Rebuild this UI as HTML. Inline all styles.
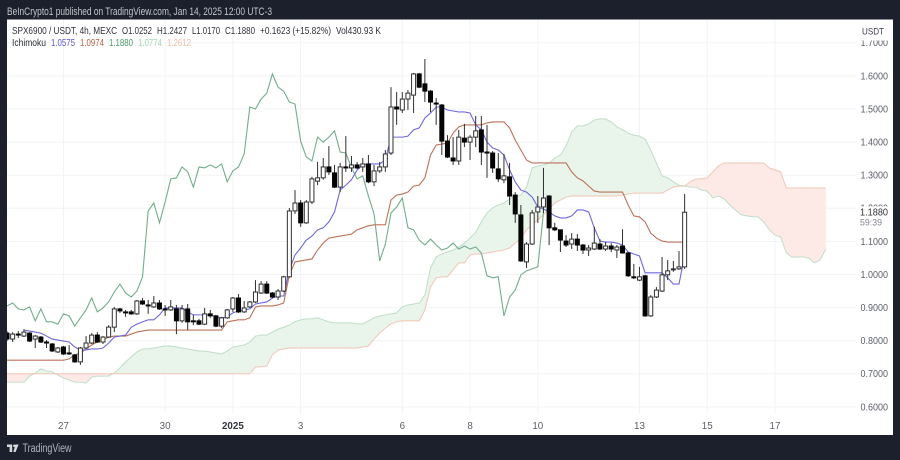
<!DOCTYPE html>
<html lang="en">
<head>
<meta charset="utf-8">
<title>SPX6900 / USDT Ichimoku chart</title>
<style>
html,body{margin:0;padding:0;width:900px;height:460px;overflow:hidden;background:#1c202c;}
svg{display:block;font-family:"Liberation Sans",sans-serif;filter:blur(0.3px);}
</style>
</head>
<body>
<svg id="chart" width="900" height="460" viewBox="0 0 900 460" xmlns="http://www.w3.org/2000/svg">
  <defs>
    <clipPath id="plot-clip"><rect x="7" y="20" width="853" height="415"></rect></clipPath>
  </defs>
  <rect x="0" y="0" width="900" height="460" fill="#1c202c"></rect>
  <text x="7" y="15" font-size="10.6" fill="#c4c6cb" textLength="265" lengthAdjust="spacingAndGlyphs">BeInCrypto1 published on TradingView.com, Jan 14, 2025 12:00 UTC-3</text>
  <rect x="7" y="19.5" width="886" height="415.5" fill="#ffffff"></rect>
  <g id="grid"></g>
  <g id="series" clip-path="url(#plot-clip)"></g>
  <g id="y-axis"></g>
  <g id="x-axis"></g>

  <rect x="856" y="21" width="34" height="19.5" fill="#ffffff"></rect>
  <text x="862" y="34.5" font-size="9.6" fill="#3a3d46" textLength="22" lengthAdjust="spacingAndGlyphs">USDT</text>

  <rect x="856" y="206.5" width="34" height="22" fill="#ffffff"></rect>
  <text x="860" y="215.5" font-size="9.8" fill="#2e3038" textLength="28" lengthAdjust="spacingAndGlyphs">1.1880</text>
  <text x="860" y="225.5" font-size="9" fill="#80838d" textLength="22" lengthAdjust="spacingAndGlyphs">59:39</text>

  <g font-size="10.2" fill="#2e3038">
    <text x="12" y="34" textLength="105" lengthAdjust="spacingAndGlyphs">SPX6900 / USDT, 4h, MEXC</text>
    <text x="122" y="34" textLength="30" lengthAdjust="spacingAndGlyphs">O1.0252</text>
    <text x="157" y="34" textLength="30" lengthAdjust="spacingAndGlyphs">H1.2427</text>
    <text x="192" y="34" textLength="28" lengthAdjust="spacingAndGlyphs">L1.0170</text>
    <text x="225" y="34" textLength="30" lengthAdjust="spacingAndGlyphs">C1.1880</text>
    <text x="260" y="34" textLength="71" lengthAdjust="spacingAndGlyphs">+0.1623 (+15.82%)</text>
    <text x="336" y="34" textLength="45" lengthAdjust="spacingAndGlyphs">Vol430.93 K</text>
    <text x="12" y="46" textLength="34" lengthAdjust="spacingAndGlyphs">Ichimoku</text>
    <text x="51" y="46" fill="#5b57d6" textLength="24" lengthAdjust="spacingAndGlyphs">1.0575</text>
    <text x="80" y="46" fill="#b5654a" textLength="24" lengthAdjust="spacingAndGlyphs">1.0974</text>
    <text x="109" y="46" fill="#4a9a68" textLength="24" lengthAdjust="spacingAndGlyphs">1.1880</text>
    <text x="138" y="46" fill="#a3d6b2" textLength="24" lengthAdjust="spacingAndGlyphs">1.0774</text>
    <text x="167" y="46" fill="#f3bba8" textLength="24" lengthAdjust="spacingAndGlyphs">1.2612</text>
  </g>

  <g>
    <path d="M7 444.5h5.2v7.5H9.6v-5H7z M15.6 452l3-7.5H15.5l-2.2 7.5z" fill="#d6d8dd"></path>
    <circle cx="14.4" cy="445.8" r="1.3" fill="#d6d8dd"></circle>
    <text x="22.5" y="452" font-size="11.5" fill="#b2b5be" textLength="49" lengthAdjust="spacingAndGlyphs">TradingView</text>
  </g>

<script>
const tickBars = [10, 28, 40, 52, 70, 82, 94, 112, 124, 136];
const tickLabels = ['27', '30', '2025', '3', '6', '8', '10', '13', '15', '17'];
const priceTicks = [1.7, 1.6, 1.5, 1.4, 1.3, 1.2, 1.1, 1.0, 0.9, 0.8, 0.7, 0.6];

const opens = [
 .823,.805,.820,.814,.823,.805,.811,.796,.790,.766,.781,.763,.757,.736,.778,.793,.817,.796,.811,.841,.896,.887,.887,.881,.920,
 .908,.902,.914,.896,.893,.896,.860,.896,.860,.860,.850,.881,.875,.844,.869,.896,.929,.887,.902,.917,.944,.971,.944,.932,.950,
 .993,1.192,1.216,1.156,1.219,1.282,1.292,1.325,1.307,1.264,1.325,1.322,1.331,1.325,1.334,1.280,1.313,1.325,1.367,1.506,1.497,1.530,1.542,1.606,1.576,
 1.554,1.518,1.512,1.403,1.352,1.343,1.412,1.400,1.415,1.437,1.370,1.367,1.319,1.286,1.295,1.240,1.180,1.038,1.092,1.189,1.204,1.237,1.141,1.135,1.101,
 1.092,1.107,1.089,1.074,1.077,1.092,1.077,1.086,1.074,1.086,1.065,.993,.983,.996,.875,.932,.950,.999,1.014,1.017,1.023
];
const highs = [
 .829,.826,.829,.835,.826,.817,.814,.802,.793,.781,.784,.787,.760,.781,.814,.823,.826,.814,.847,.902,.899,.893,.893,.923,.929,
 .923,.935,.923,.908,.923,.908,.908,.911,.878,.866,.899,.893,.878,.872,.896,.932,.941,.920,.920,.983,.980,.980,.947,.956,.996,
 1.201,1.255,1.225,1.225,1.295,1.340,1.352,1.388,1.331,1.337,1.418,1.358,1.340,1.352,1.361,1.331,1.340,1.376,1.566,1.551,1.551,1.557,1.609,1.609,1.651,
 1.557,1.533,1.515,1.421,1.415,1.437,1.455,1.421,1.479,1.479,1.452,1.373,1.367,1.364,1.337,1.249,1.210,1.098,1.195,1.237,1.322,1.240,1.156,1.135,1.119,
 1.125,1.122,1.092,1.089,1.144,1.107,1.098,1.095,1.089,1.137,1.068,1.032,1.023,.999,.938,.962,1.053,1.044,1.041,1.071,1.243
];
const lows = [
 .799,.796,.808,.811,.796,.778,.793,.778,.766,.763,.757,.757,.733,.727,.775,.790,.793,.790,.808,.826,.884,.872,.878,.878,.908,
 .881,.899,.893,.875,.890,.820,.854,.832,.847,.847,.847,.869,.841,.838,.866,.887,.884,.884,.899,.914,.941,.941,.929,.923,.947,
 .990,1.183,1.144,1.153,1.213,1.270,1.286,1.301,1.261,1.249,1.310,1.310,1.319,1.310,1.276,1.267,1.307,1.310,1.361,1.452,1.488,1.497,1.488,1.563,1.521,
 1.491,1.452,1.361,1.352,1.331,1.331,1.385,1.346,1.385,1.331,1.292,1.307,1.280,1.276,1.210,1.156,1.038,1.020,1.089,1.156,1.186,1.089,1.131,1.068,1.083,
 1.077,1.071,1.062,1.056,1.074,1.074,1.071,1.068,1.050,1.063,.993,.986,.980,.872,.872,.929,.947,.983,1.008,1.014,1.017
];
const closes = [
 .805,.820,.817,.826,.799,.814,.796,.793,.769,.778,.760,.760,.736,.778,.793,.817,.796,.811,.841,.896,.890,.884,.881,.920,.911,
 .905,.914,.896,.893,.902,.860,.896,.857,.857,.850,.881,.875,.844,.869,.893,.929,.887,.899,.917,.947,.971,.944,.932,.950,.993,
 1.192,1.216,1.156,1.219,1.289,1.292,1.325,1.310,1.264,1.325,1.322,1.331,1.322,1.334,1.280,1.313,1.325,1.364,1.506,1.500,1.530,1.548,1.606,1.566,1.554,
 1.521,1.515,1.403,1.355,1.343,1.415,1.400,1.415,1.434,1.370,1.367,1.322,1.289,1.298,1.237,1.183,1.041,1.092,1.186,1.204,1.231,1.141,1.135,1.104,1.089,
 1.107,1.089,1.074,1.080,1.095,1.077,1.086,1.077,1.083,1.065,.996,.990,.993,.875,.932,.953,.999,1.011,1.017,1.023,1.188
];
const tenkan = [
 null,null,null,.832,.829,.826,.823,.814,.805,.802,
 .799,.796,.781,.772,.772,.775,.775,.778,.793,.811,
 .814,.817,.841,.850,.857,.863,.863,.878,.899,.899,
 .899,.899,.887,.878,.878,.878,.878,.872,.869,.872,
 .884,.890,.893,.896,.911,.914,.917,.929,.935,.935,
 1.014,1.059,1.080,1.104,1.116,1.135,1.141,1.159,1.189,1.255,
 1.270,1.286,1.316,1.331,1.334,1.334,1.334,1.346,1.415,1.415,
 1.415,1.418,1.437,1.443,1.473,1.488,1.506,1.506,1.497,1.494,
 1.491,1.491,1.488,1.452,1.437,1.400,1.382,1.376,1.361,1.316,
 1.280,1.255,1.249,1.234,1.204,1.198,1.189,1.177,1.171,1.171,
 1.177,1.195,1.195,1.189,1.141,1.101,1.098,1.098,1.095,1.089,
 1.068,1.062,1.056,1.005,1.005,1.005,1.005,.990,.971,.971,1.0575
];
const kijun = [
 .741,.741,.741,.741,.741,.741,.741,.741,.741,.741,
 .741,.745,.757,.763,.775,.787,.796,.802,.811,.814,
 .814,.814,.820,.826,.829,.832,.832,.832,.832,.832,
 .832,.832,.832,.832,.832,.832,.832,.832,.832,.857,
 .860,.863,.863,.869,.902,.905,.905,.905,.908,.914,
 .999,1.038,1.041,1.044,1.047,1.074,1.095,1.110,1.113,1.116,
 1.119,1.122,1.135,1.141,1.147,1.150,1.150,1.150,1.225,1.240,
 1.243,1.249,1.267,1.270,1.292,1.361,1.391,1.394,1.397,1.427,
 1.446,1.452,1.452,1.452,1.452,1.458,1.461,1.461,1.461,1.443,
 1.406,1.376,1.346,1.337,1.337,1.337,1.337,1.337,1.337,1.337,
 1.310,1.292,1.283,1.267,1.252,1.249,1.249,1.249,1.249,1.249,
 1.210,1.177,1.174,1.159,1.125,1.110,1.101,1.098,1.098,1.098,1.0974
];
const chikou = [
 .905,.914,.896,.893,.902,.860,.896,.857,.857,.850,.881,.875,.844,.869,.893,.929,.887,.899,.917,.947,.971,.944,.932,.950,.993,
 1.192,1.216,1.156,1.219,1.289,1.292,1.325,1.310,1.264,1.325,1.322,1.331,1.322,1.334,1.280,1.313,1.325,1.364,1.506,1.500,1.530,1.548,1.606,1.566,1.554,
 1.521,1.515,1.403,1.355,1.343,1.415,1.400,1.415,1.434,1.370,1.367,1.322,1.289,1.298,1.237,1.183,1.041,1.092,1.186,1.204,1.231,1.141,1.135,1.104,1.089,
 1.107,1.089,1.074,1.080,1.095,1.077,1.086,1.077,1.083,1.065,.996,.990,.993,.875,.932,.953,.999,1.011,1.017,1.023,1.188
];
const spanA = [
 .675,.675,.675,.675,.693,.702,.715,.709,.706,.696,
 .687,.681,.675,.675,.672,.690,.693,.693,.693,.702,
 .718,.736,.751,.766,.775,.775,.778,.781,.784,.784,
 .781,.778,.775,.772,.769,.769,.766,.763,.760,.769,
 .781,.784,.787,.796,.814,.817,.817,.826,.835,.841,
 .847,.857,.863,.866,.866,.869,.863,.857,.854,.854,
 .854,.854,.851,.851,.860,.869,.875,.878,.881,.884,
 .902,.908,.911,.914,.938,1.020,1.053,1.062,1.068,1.074,
 1.083,1.095,1.110,1.128,1.159,1.186,1.201,1.210,1.216,1.228,
 1.237,1.240,1.264,1.322,1.328,1.331,1.337,1.352,1.361,1.388,
 1.431,1.449,1.449,1.455,1.467,1.470,1.470,1.461,1.446,1.437,
 1.427,1.421,1.418,1.409,1.376,1.337,1.298,1.292,1.280,1.270,
 1.267,1.264,1.264,1.255,1.252,1.231,1.237,1.228,1.210,1.195,
 1.180,1.177,1.174,1.174,1.159,1.135,1.119,1.113,1.065,1.053,
 1.053,1.053,1.050,1.035,1.044,1.0774
];
const spanB = [
 .700,.700,.700,.700,.700,.700,.700,.700,.700,.700,
 .700,.700,.700,.700,.700,.700,.700,.700,.700,.700,
 .700,.700,.700,.700,.700,.700,.700,.700,.700,.700,
 .700,.700,.700,.700,.700,.700,.700,.700,.700,.700,
 .700,.700,.700,.700,.721,.721,.724,.757,.772,.775,
 .778,.778,.778,.778,.778,.778,.778,.778,.778,.778,
 .778,.778,.778,.781,.784,.805,.823,.838,.851,.857,
 .860,.860,.860,.860,.893,.962,.990,.993,.993,1.014,
 1.035,1.035,1.059,1.062,1.062,1.065,1.068,1.071,1.074,1.080,
 1.095,1.110,1.135,1.150,1.165,1.180,1.198,1.216,1.225,1.234,
 1.237,1.237,1.237,1.237,1.237,1.237,1.237,1.237,1.237,1.240,
 1.243,1.246,1.246,1.246,1.246,1.246,1.246,1.255,1.264,1.267,
 1.267,1.280,1.289,1.289,1.292,1.310,1.328,1.337,1.337,1.337,
 1.337,1.337,1.337,1.337,1.337,1.322,1.316,1.310,1.2612,1.2612,
 1.2612,1.2612,1.2612,1.2612,1.2612,1.2612
];

const NS = 'http://www.w3.org/2000/svg';
const gridG = document.getElementById('grid');
const seriesG = document.getElementById('series');
const yAxisG = document.getElementById('y-axis');
const xAxisG = document.getElementById('x-axis');

function xScale(i) { return 7 + 5.647 * i; }
function yScale(p) { return 274.5 - (p - 1) * 331; }

function make(tag, attrs, parent) {
  const el = document.createElementNS(NS, tag);
  for (const k in attrs) el.setAttribute(k, attrs[k]);
  parent.appendChild(el);
  return el;
}

priceTicks.forEach(function (p) {
  const line = make('line', { x1: 7, x2: 856, y1: yScale(p), y2: yScale(p), stroke: '#f2f3f5', 'stroke-width': 1 }, gridG);
  
  
  const label = make('text', { x: 860.5, y: yScale(p) + 3.4, 'font-size': 9.8, fill: '#5c5f69', textLength: 27.5, lengthAdjust: 'spacingAndGlyphs' }, yAxisG);
  label.textContent = p.toFixed(4);
  
  
});

tickBars.forEach(function (bar, idx) {
  const x = xScale(bar);
  const line = make('line', { x1: x, x2: x, y1: 20, y2: 414, stroke: '#f2f3f5', 'stroke-width': 1 }, gridG);
  
  
  const isYear = tickLabels[idx] === '2025';
  const label = make('text', { x: x, y: 429, 'font-size': 9.8, 'text-anchor': 'middle', fill: isYear ? '#33353d' : '#5c5f69', 'font-weight': isYear ? 700 : 400 }, xAxisG);
  label.textContent = tickLabels[idx];
  
  
});

function flushCloud(top, bot, isUp) {
  if (top.length < 2) return;
  const pts = top.concat(bot.slice().reverse()).map(function (q) { return q[0].toFixed(2) + ',' + q[1].toFixed(2); }).join(' ');
  const poly = make('polygon', { points: pts, fill: isUp ? '#e9f4eb' : '#fdeae7' }, seriesG);
  
  
}

(function drawCloud() {
  let top = [], bot = [], sign = null;
  for (let i = 0; i < spanA.length; i++) {
    const a = spanA[i], b = spanB[i], s = a >= b;
    if (sign === null) sign = s;
    if (s !== sign) {
      const d0 = spanA[i - 1] - spanB[i - 1], d1 = a - b;
      const t = d0 / (d0 - d1);
      const cx = xScale(i - 1 + t), cy = yScale(spanA[i - 1] + t * (a - spanA[i - 1]));
      top.push([cx, cy]);
      bot.push([cx, cy]);
      flushCloud(top, bot, sign);
      top = [[cx, cy]];
      bot = [[cx, cy]];
      sign = s;
    }
    top.push([xScale(i), yScale(a)]);
    bot.push([xScale(i), yScale(b)]);
  }
  flushCloud(top, bot, sign);
})();

function linePoints(values) {
  const out = [];
  values.forEach(function (v, i) {
    if (v !== null) out.push(xScale(i).toFixed(2) + ',' + yScale(v).toFixed(2));
  });
  return out.join(' ');
}

const spanALine = make('polyline', { points: linePoints(spanA), fill: 'none', stroke: '#bfdec8', 'stroke-width': 1 }, seriesG);



const spanBLine = make('polyline', { points: linePoints(spanB), fill: 'none', stroke: '#f1c6b6', 'stroke-width': 1 }, seriesG);



const chikouLine = make('polyline', { points: linePoints(chikou), fill: 'none', stroke: '#72ad8b', 'stroke-width': 1.1 }, seriesG);



const kijunLine = make('polyline', { points: linePoints(kijun), fill: 'none', stroke: '#bd7257', 'stroke-width': 1.1 }, seriesG);



const tenkanLine = make('polyline', { points: linePoints(tenkan), fill: 'none', stroke: '#6d68dc', 'stroke-width': 1.1 }, seriesG);



closes.forEach(function (c, i) {
  const o = opens[i];
  const x = xScale(i);
  const up = c >= o;
  const wick = make('line', { x1: x, x2: x, y1: yScale(highs[i]), y2: yScale(lows[i]), stroke: '#2f2f2f', 'stroke-width': 1 }, seriesG);
  
  
  const top = yScale(Math.max(o, c));
  const h = Math.max(Math.abs(yScale(o) - yScale(c)), 1);
  const body = make('rect', { x: x - 2, y: top, width: 4, height: h, fill: up ? '#ffffff' : '#050505', stroke: up ? '#2f2f2f' : '#050505', 'stroke-width': 1 }, seriesG);
  
  
});
</script>
</svg>
</body>
</html>
